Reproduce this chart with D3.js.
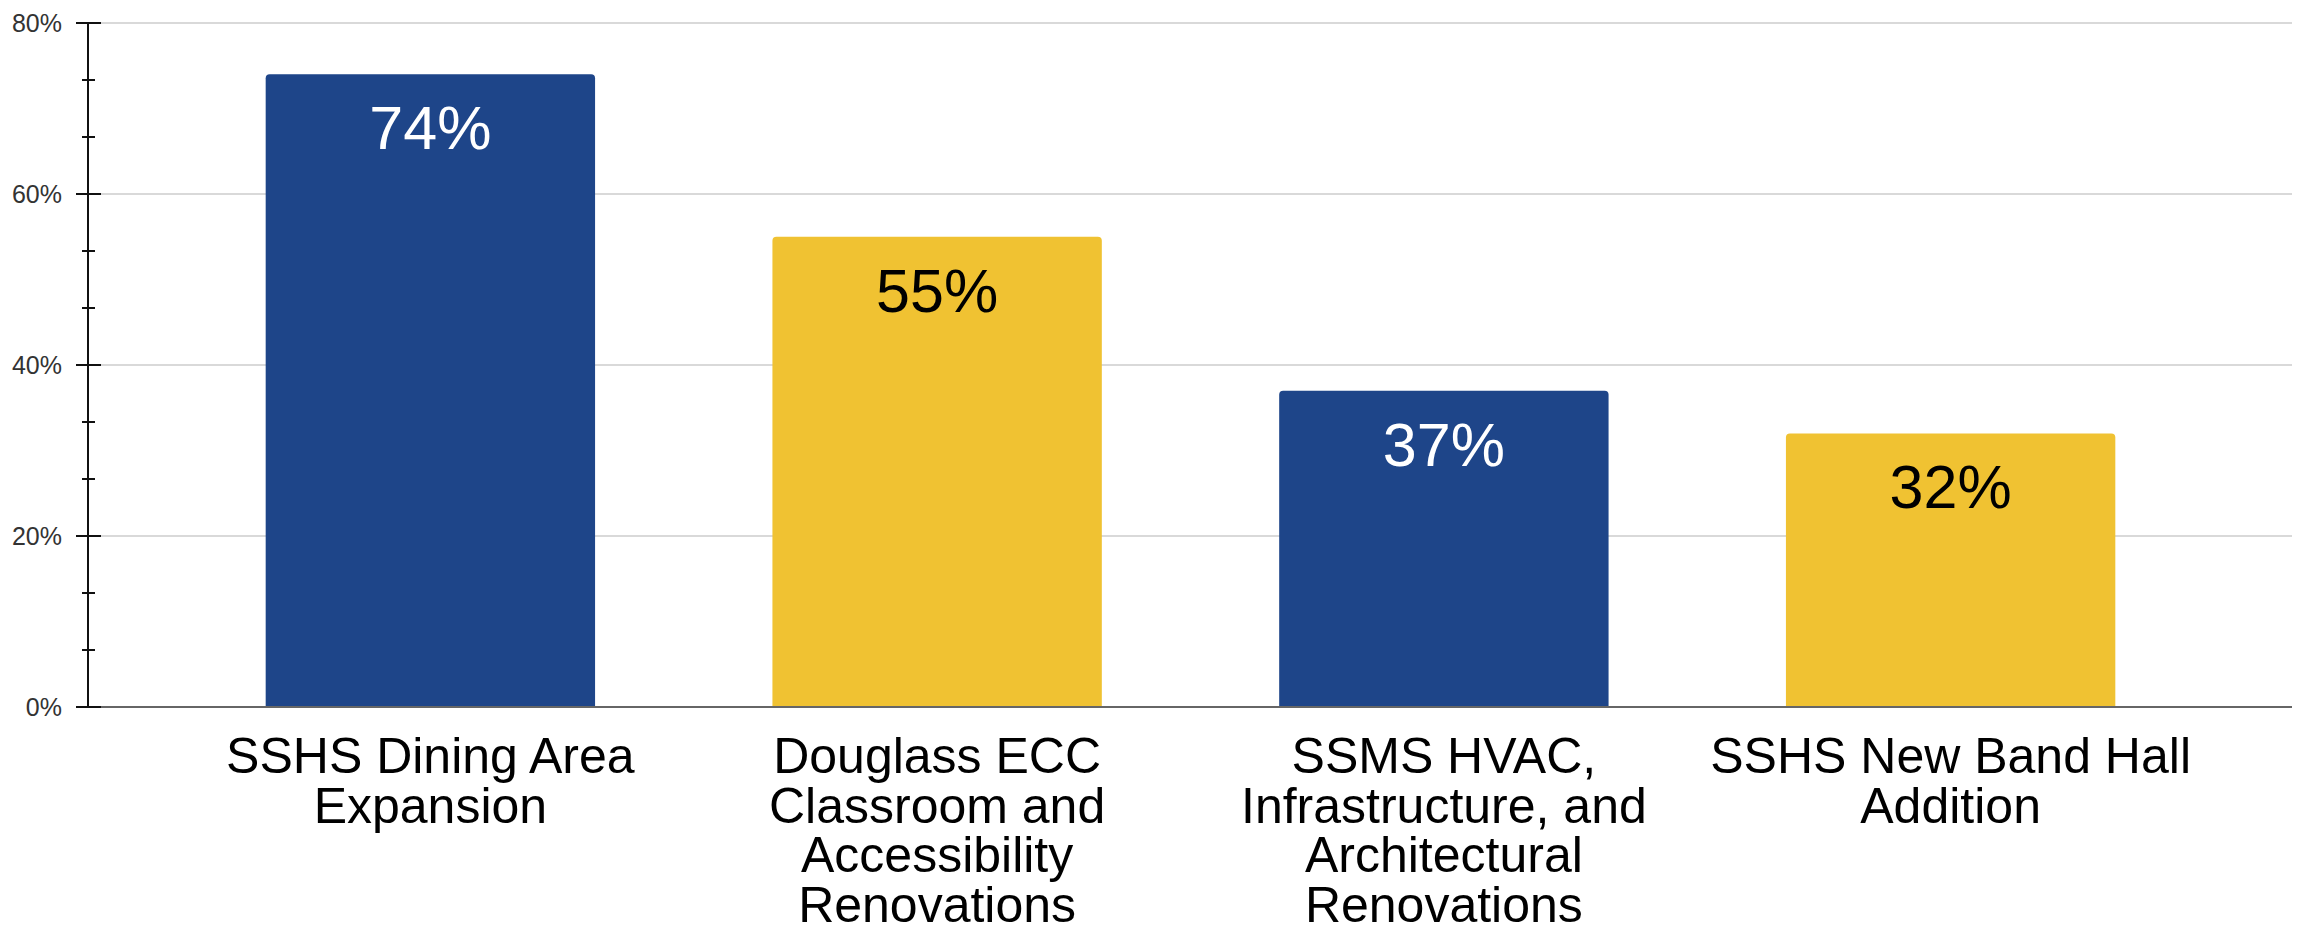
<!DOCTYPE html>
<html>
<head>
<meta charset="utf-8">
<script src="https://cdn.jsdelivr.net/npm/d3@7"></script>
<style>
  html, body { margin: 0; padding: 0; background: #ffffff; }
  svg { display: block; font-family: "Liberation Sans", Arial, sans-serif; }
</style>
</head>
<body>
<svg id="chart" width="2303" height="927"></svg>
<script>
const categories = [
  "SSHS Dining Area Expansion",
  "Douglass ECC Classroom and Accessibility Renovations",
  "SSMS HVAC, Infrastructure, and Architectural Renovations",
  "SSHS New Band Hall Addition"
];
const values = [74, 55, 37, 32];
const barColors = ["#1e4589", "#f0c232", "#1e4589", "#f0c232"];
const labelColors = ["#ffffff", "#000000", "#ffffff", "#000000"];
const yTicks = [0, 20, 40, 60, 80];
const yMinorTicks = d3.range(0, 80.001, 20 / 3);

const svg = d3.select("#chart");
const W = 2303, H = 927;
const axisX = 88, gridRight = 2292;
const yTop = 23, yBottom = 707;

const x = d3.scaleBand().domain(categories).range([177, 2204]).paddingInner(0.35).paddingOuter(0.175);
const y = d3.scaleLinear().domain([0, 80]).range([yBottom, yTop]);

// gridlines
svg.append("g").selectAll("line").data(yTicks.filter(d => d > 0)).join("line")
  .attr("x1", axisX).attr("x2", gridRight)
  .attr("y1", d => y(d)).attr("y2", d => y(d))
  .attr("stroke", "#d9d9d9").attr("stroke-width", 2);

// bars (rounded top)
function barPath(x0, y0, w, h, r) {
  return `M${x0},${y0 + h}V${y0 + r}Q${x0},${y0} ${x0 + r},${y0}H${x0 + w - r}Q${x0 + w},${y0} ${x0 + w},${y0 + r}V${y0 + h}Z`;
}
svg.append("g").selectAll("path").data(values).join("path")
  .attr("d", (d, i) => barPath(x(categories[i]), y(d), x.bandwidth(), y(0) - y(d), 4))
  .attr("fill", (d, i) => barColors[i]);

// bar value labels
svg.append("g").selectAll("text").data(values).join("text")
  .attr("x", (d, i) => x(categories[i]) + x.bandwidth() / 2)
  .attr("y", d => y(d) + 75)
  .attr("text-anchor", "middle")
  .attr("font-size", 61)
  .attr("fill", (d, i) => labelColors[i])
  .text(d => d + "%");

// x baseline
svg.append("line")
  .attr("x1", axisX).attr("x2", gridRight)
  .attr("y1", y(0)).attr("y2", y(0))
  .attr("stroke", "#666666").attr("stroke-width", 2);

// y axis
const yAxis = d3.axisLeft(y).tickValues(yTicks).tickFormat(d => d + "%").tickSize(0).tickPadding(26);
const gy = svg.append("g").attr("transform", `translate(${axisX},0)`).call(yAxis);
gy.select(".domain").remove();
gy.selectAll("text").attr("font-size", 25).attr("fill", "#333333")
  .attr("font-family", "\"Liberation Sans\", Arial, sans-serif");
svg.append("line").attr("x1", axisX).attr("x2", axisX)
  .attr("y1", y(80) - 1).attr("y2", y(0) + 1)
  .attr("stroke", "#111111").attr("stroke-width", 2);
svg.append("g").selectAll("line").data(yMinorTicks).join("line")
  .attr("x1", d => (Math.abs(d % 20) < 1e-6 || Math.abs(d % 20 - 20) < 1e-6) ? axisX - 12 : axisX - 6)
  .attr("x2", d => (Math.abs(d % 20) < 1e-6 || Math.abs(d % 20 - 20) < 1e-6) ? axisX + 13 : axisX + 7)
  .attr("y1", d => y(d)).attr("y2", d => y(d))
  .attr("stroke", "#111111").attr("stroke-width", 2);

// x category labels (wrapped)
const maxW = x.step() - 12;
const gx = svg.append("g");
categories.forEach(cat => {
  const t = gx.append("text")
    .attr("x", x(cat) + x.bandwidth() / 2)
    .attr("y", 773)
    .attr("text-anchor", "middle")
    .attr("font-size", 50)
    .attr("fill", "#000000");
  const words = cat.split(" ");
  let line = [];
  let lineNo = 0;
  let tspan = t.append("tspan").attr("x", x(cat) + x.bandwidth() / 2).attr("dy", 0);
  words.forEach(w => {
    line.push(w);
    tspan.text(line.join(" "));
    if (tspan.node().getComputedTextLength() > maxW && line.length > 1) {
      line.pop();
      tspan.text(line.join(" "));
      line = [w];
      lineNo++;
      tspan = t.append("tspan").attr("x", x(cat) + x.bandwidth() / 2).attr("dy", 49.5).text(w);
    }
  });
});
</script>
</body>
</html>
